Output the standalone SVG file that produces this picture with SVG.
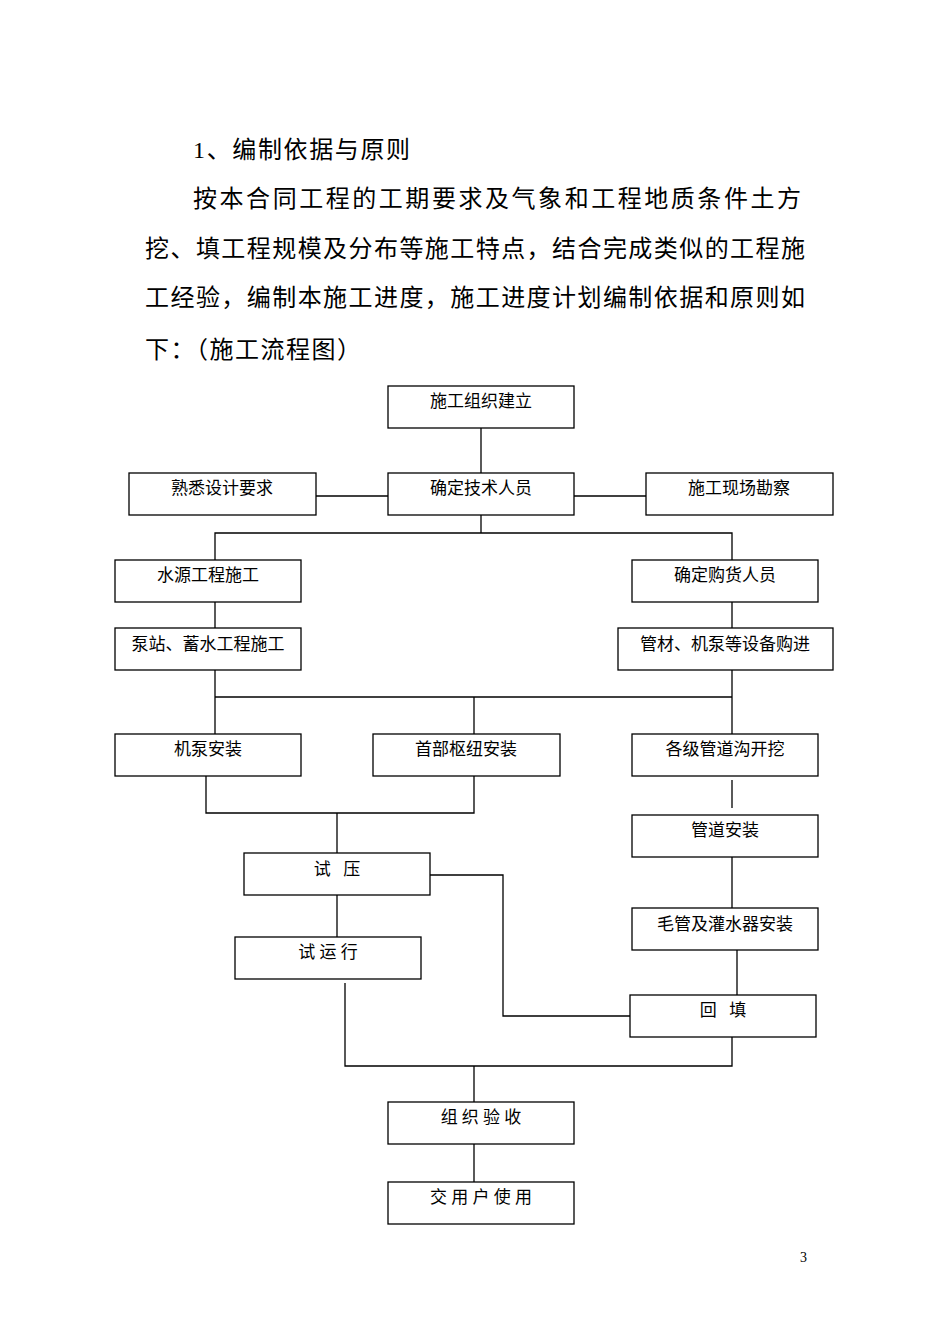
<svg xmlns="http://www.w3.org/2000/svg" width="950" height="1344" viewBox="0 0 950 1344">
<style>
rect{fill:#fff;stroke:#000;stroke-width:1.3}
.c line,.c polyline{stroke:#000;stroke-width:1.3;fill:none}
text{font-family:"Liberation Serif","Noto Sans CJK SC",serif;fill:#000}
.b{font-size:17px;text-anchor:middle}
.p{font-size:24px}
</style>
<rect x="0" y="0" width="950" height="1344" style="stroke:none"/>
<text class="p" x="193" y="158" textLength="217" lengthAdjust="spacing">1、编制依据与原则</text>
<text class="p" x="193" y="207" textLength="608" lengthAdjust="spacing">按本合同工程的工期要求及气象和工程地质条件土方</text>
<text class="p" x="145" y="257" textLength="660" lengthAdjust="spacing">挖、填工程规模及分布等施工特点，结合完成类似的工程施</text>
<text class="p" x="145" y="306" textLength="660" lengthAdjust="spacing">工经验，编制本施工进度，施工进度计划编制依据和原则如</text>
<text class="p" x="145" y="358" textLength="216" lengthAdjust="spacing">下：（施工流程图）</text>
<text x="800" y="1262" style="font-size:14px">3</text>
<g class="c">
<line x1="481" y1="428" x2="481" y2="473"/>
<line x1="316" y1="496" x2="388" y2="496"/>
<line x1="574" y1="496" x2="646" y2="496"/>
<polyline points="481,515 481,533"/>
<polyline points="215,560 215,533 732,533 732,560"/>
<line x1="215" y1="602" x2="215" y2="628"/>
<line x1="732" y1="602" x2="732" y2="628"/>
<polyline points="215,670 215,734"/>
<polyline points="732,670 732,734"/>
<line x1="215" y1="697" x2="732" y2="697"/>
<line x1="474" y1="697" x2="474" y2="734"/>
<polyline points="206,776 206,813 474,813 474,776"/>
<line x1="337" y1="813" x2="337" y2="853"/>
<line x1="732" y1="780" x2="732" y2="808"/>
<line x1="732" y1="857" x2="732" y2="908"/>
<line x1="737" y1="950" x2="737" y2="995"/>
<polyline points="430,875 503,875 503,1016 630,1016"/>
<line x1="337" y1="895" x2="337" y2="937"/>
<polyline points="345,983 345,1066 732,1066 732,1037"/>
<line x1="474" y1="1066" x2="474" y2="1102"/>
<line x1="474" y1="1144" x2="474" y2="1182"/>
</g>
<g id="n1"><rect x="388" y="386" width="186" height="42"/><text class="b" x="481" y="407">施工组织建立</text></g>
<g id="n2"><rect x="129" y="473" width="187" height="42"/><text class="b" x="222" y="494">熟悉设计要求</text></g>
<g id="n3"><rect x="388" y="473" width="186" height="42"/><text class="b" x="481" y="494">确定技术人员</text></g>
<g id="n4"><rect x="646" y="473" width="187" height="42"/><text class="b" x="739" y="494">施工现场勘察</text></g>
<g id="n5"><rect x="115" y="560" width="186" height="42"/><text class="b" x="208" y="581">水源工程施工</text></g>
<g id="n6"><rect x="632" y="560" width="186" height="42"/><text class="b" x="725" y="581">确定购货人员</text></g>
<g id="n7"><rect x="115" y="628" width="186" height="42"/><text class="b" x="208" y="650">泵站、蓄水工程施工</text></g>
<g id="n8"><rect x="618" y="628" width="215" height="42"/><text class="b" x="725" y="650">管材、机泵等设备购进</text></g>
<g id="n9"><rect x="115" y="734" width="186" height="42"/><text class="b" x="208" y="755">机泵安装</text></g>
<g id="n10"><rect x="373" y="734" width="187" height="42"/><text class="b" x="466" y="755">首部枢纽安装</text></g>
<g id="n11"><rect x="632" y="734" width="186" height="42"/><text class="b" x="725" y="755">各级管道沟开挖</text></g>
<g id="n12"><rect x="632" y="815" width="186" height="42"/><text class="b" x="725" y="836">管道安装</text></g>
<g id="n13"><rect x="244" y="853" width="186" height="42"/><text class="b" x="337" y="875" xml:space="preserve">试   压</text></g>
<g id="n14"><rect x="632" y="908" width="186" height="42"/><text class="b" x="725" y="930">毛管及灌水器安装</text></g>
<g id="n15"><rect x="235" y="937" width="186" height="42"/><text class="b" x="328" y="958" xml:space="preserve">试 运 行</text></g>
<g id="n16"><rect x="630" y="995" width="186" height="42"/><text class="b" x="723" y="1016" xml:space="preserve">回   填</text></g>
<g id="n17"><rect x="388" y="1102" width="186" height="42"/><text class="b" x="481" y="1123" xml:space="preserve">组 织 验 收</text></g>
<g id="n18"><rect x="388" y="1182" width="186" height="42"/><text class="b" x="481" y="1203" xml:space="preserve">交 用 户 使 用</text></g>
</svg>
